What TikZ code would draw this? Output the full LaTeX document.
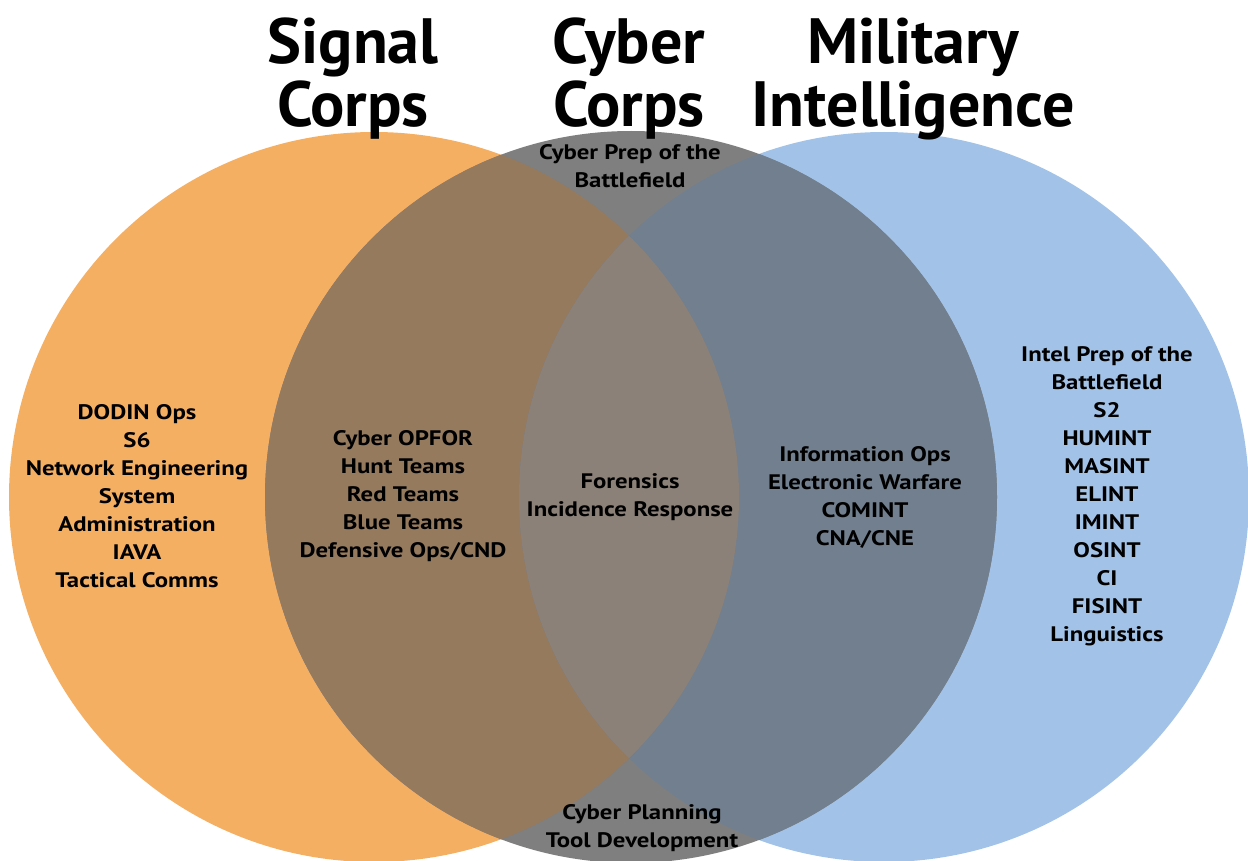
\documentclass[tikz,border=0pt]{standalone}
\usepackage{fontspec}
\setmainfont{PT Sans}
\newfontfamily\listfont[FakeStretch=1.18]{PT Sans}
\usepackage{tikz}
\usetikzlibrary{positioning}
\definecolor{sigorange}{HTML}{F5AF63}
\definecolor{miblue}{HTML}{A2C2E8}
\definecolor{cybgray}{HTML}{7F7F7F}
\definecolor{sigcyb}{HTML}{957A5E}
\definecolor{cybmi}{HTML}{717F8E}
\definecolor{allthree}{HTML}{8B8178}

\begin{document}
\begin{tikzpicture}[x=1pt,y=-1pt,
    corpstitle/.style={inner sep=0pt, font=\fontsize{64}{59}\selectfont\bfseries},
    skilllist/.style={inner sep=0pt, font=\listfont\fontsize{21}{28}\selectfont\bfseries}]

\useasboundingbox (0,0) rectangle (1248,861);

    % circles
\fill[sigorange] (374,497) circle[radius=365];
\fill[miblue] (884,497) circle[radius=365];
\fill[cybgray] (631,497) circle[radius=366];
\begin{scope}
\clip (374,497) circle[radius=365];
\fill[sigcyb] (631,497) circle[radius=366];
\end{scope}
\begin{scope}
\clip (884,497) circle[radius=365];
\fill[cybmi] (631,497) circle[radius=366];
\end{scope}
\begin{scope}
\clip (374,497) circle[radius=365];
\clip (884,497) circle[radius=365];
\fill[allthree] (631,497) circle[radius=366];
\end{scope}

    % titles
\node[corpstitle] (signal) at (353,81) {
    \begin{tabular}{@{}c@{}}
    Signal\\
    Corps
    \end{tabular}
};
\node[corpstitle] (cyber) at (629,81) {
    \begin{tabular}{@{}c@{}}
    Cyber\\
    Corps
    \end{tabular}
};
\node[corpstitle] (military) at (913,81) {
    \begin{tabular}{@{}c@{}}
    Military\\
    Intelligence
    \end{tabular}
};

    % -------

\node[skilllist] (signalL) at (137,498) {
    \begin{tabular}{@{}c@{}}
    DODIN Ops\\
    S6\\
    Network Engineering\\
    System\\
    Administration\\
    IAVA\\
    Tactical Comms
    \end{tabular}
};
\node[skilllist] (sigcybL) at (403,496) {
    \begin{tabular}{@{}c@{}}
    Cyber OPFOR\\
    Hunt Teams\\
    Red Teams\\
    Blue Teams\\
    Defensive Ops/CND
    \end{tabular}
};
\node[skilllist] (allL) at (630,497) {
    \begin{tabular}{@{}c@{}}
    Forensics\\
    Incidence Response
    \end{tabular}
};
\node[skilllist] (cybmiL) at (865,498) {
    \begin{tabular}{@{}c@{}}
    Information Ops\\
    Electronic Warfare\\
    COMINT\\
    CNA/CNE
    \end{tabular}
};
\node[skilllist] (militaryL) at (1107,496) {
    \begin{tabular}{@{}c@{}}
    Intel Prep of the\\
    Battlefield\\
    S2\\
    HUMINT\\
    MASINT\\
    ELINT\\
    IMINT\\
    OSINT\\
    CI\\
    FISINT\\
    Linguistics
    \end{tabular}
};
\node[skilllist] (cybtopL) at (630,168) {
    \begin{tabular}{@{}c@{}}
    Cyber Prep of the\\
    Battlefield
    \end{tabular}
};
\node[skilllist] (cybbotL) at (642,828) {
    \begin{tabular}{@{}c@{}}
    Cyber Planning\\
    Tool Development
    \end{tabular}
};

\end{tikzpicture}
\end{document}
